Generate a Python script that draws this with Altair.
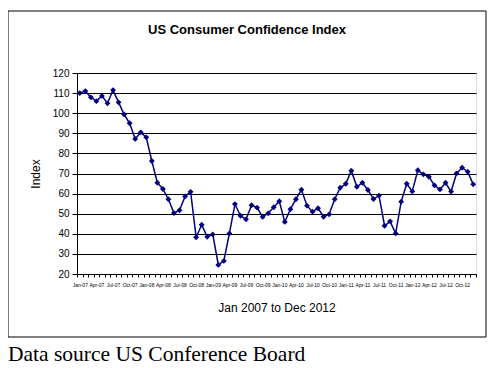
import altair as alt
import pandas as pd

MONTHS = ["Jan", "Feb", "Mar", "Apr", "May", "Jun", "Jul", "Aug", "Sep", "Oct", "Nov", "Dec"]
YEARS = ["07", "08", "09", "10", "11", "12"]
INDEX = [
    110.0, 111.0, 107.9, 106.0, 108.6, 104.9, 111.5, 105.4, 99.4, 95.0, 87.2, 90.5,
    88.0, 76.2, 65.4, 62.3, 57.2, 50.3, 51.7, 58.6, 60.9, 38.3, 44.5, 38.5,
    39.7, 24.5, 26.5, 40.2, 54.8, 49.0, 47.2, 54.2, 53.0, 48.4, 50.2, 53.2,
    56.2, 45.9, 52.2, 57.2, 61.9, 54.0, 51.0, 52.7, 48.5, 49.7, 57.2, 62.9,
    64.9, 71.4, 63.4, 65.4, 61.8, 57.3, 59.0, 44.0, 46.2, 40.2, 56.0, 64.9,
    61.1, 71.6, 69.6, 68.4, 64.1, 62.1, 65.4, 61.0, 70.1, 72.9, 70.9, 64.6,
]
Y_TICKS = [20, 30, 40, 50, 60, 70, 80, 90, 100, 110, 120]
TITLE = "US Consumer Confidence Index"
X_TITLE = "Jan 2007 to Dec 2012"
Y_TITLE = "Index"
SOURCE = "Data source US Conference Board"

labels = [f"{m}-{y}" for y in YEARS for m in MONTHS]
df = pd.DataFrame({"month": labels, "index": INDEX})

NAVY = "#000080"
SANS = "Liberation Sans"

line = alt.Chart(df).mark_line(
    color=NAVY, strokeWidth=1.5,
    point=alt.OverlayMarkDef(shape="diamond", size=34, filled=True, color=NAVY),
).encode(
    x=alt.X(
        "month:O", sort=None,
        scale=alt.Scale(type="band", paddingInner=0, paddingOuter=0),
        axis=alt.Axis(
            title=X_TITLE,
            labelExpr="test(/^(Jan|Apr|Jul|Oct)/, datum.value) ? datum.value : ''",
            labelAngle=0, labelFontSize=5, labelFont=SANS, labelColor="black",
            labelOverlap=False, labelPadding=5,
            tickBand="extent", tickSize=3, tickColor="black",
            domainColor="black", grid=False,
            titleFont=SANS, titleFontSize=12, titleFontWeight="normal",
            titleColor="black", titlePadding=15,
        ),
    ),
    y=alt.Y(
        "index:Q",
        scale=alt.Scale(domain=[20, 120], nice=False, zero=False),
        axis=alt.Axis(
            title=Y_TITLE, values=Y_TICKS, grid=True, gridColor="black",
            gridWidth=1, labelFont=SANS, labelFontSize=10, labelColor="black",
            labelPadding=3, tickSize=5, tickColor="black", domainColor="black",
            titleFont=SANS, titleFontSize=12, titleFontWeight="normal",
            titleColor="black", titlePadding=10,
        ),
    ),
)

box = alt.Chart(pd.DataFrame({"k": [0]})).mark_rect(
    fillOpacity=0, stroke="black", strokeWidth=1
).encode(
    x=alt.value(-69), x2=alt.value(409), y=alt.value(-62), y2=alt.value(264)
)

title = alt.Chart(pd.DataFrame({"t": [TITLE]})).mark_text(
    align="center", baseline="middle", font=SANS, fontSize=13,
    fontWeight="bold", color="black",
).encode(
    text="t:N", x=alt.value(170), y=alt.value(-43)
)

source = alt.Chart(pd.DataFrame({"t": [SOURCE]})).mark_text(
    align="left", baseline="alphabetic", font="Liberation Serif",
    fontSize=21.5, color="black",
).encode(
    text="t:N", x=alt.value(-69), y=alt.value(288)
)

chart = alt.layer(box, line, title, source).properties(
    width=399, height=201,
    autosize=alt.AutoSizeParams(type="none"),
    padding={"left": 69, "top": 65, "right": 11, "bottom": 92},
).configure_view(
    fill="#C0C0C0", stroke="#808080", strokeWidth=1
).configure(background="white")

chart.save("out.html", embed_options={"renderer": "svg", "actions": False})
